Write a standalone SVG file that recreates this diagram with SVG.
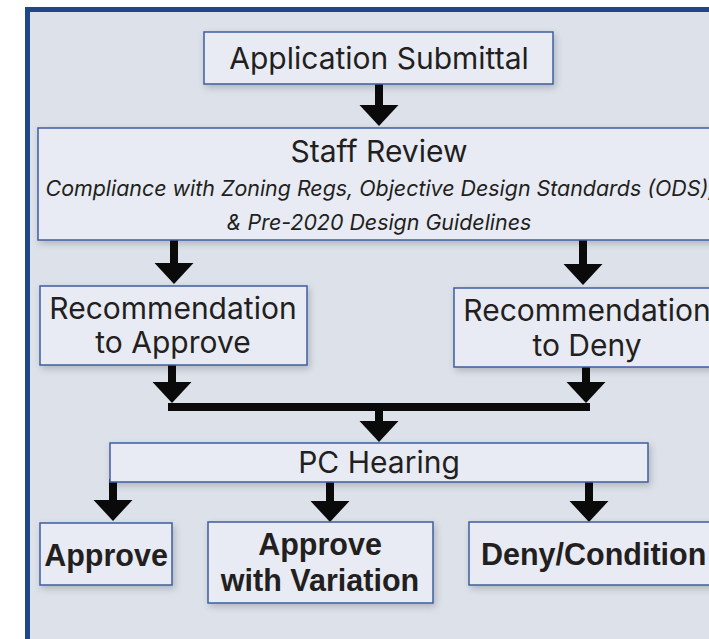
<svg xmlns="http://www.w3.org/2000/svg" width="709" height="639" viewBox="0 0 709 639">
<style>
.box{fill:#E8EBF3;stroke:#3D5E9E;stroke-width:1.5;filter:url(#sh)}
.t{font-family:Inter,"Open Sans","Liberation Sans",sans-serif;font-size:30px;fill:#231F20;text-anchor:middle}
.i{font-family:Inter,"Open Sans","Liberation Sans",sans-serif;font-size:21.4px;font-style:italic;fill:#231F20;text-anchor:middle}
.b{font-family:"Liberation Sans",Arial,sans-serif;font-size:30.5px;font-weight:bold;fill:#231F20;text-anchor:middle}
.c{stroke:#0A0A0A;stroke-width:8;fill:none;marker-end:url(#ah)}
</style>
<defs>
<filter id="sh" x="-10%" y="-20%" width="120%" height="150%">
<feDropShadow dx="2" dy="3" stdDeviation="3.5" flood-color="#000" flood-opacity="0.2"/>
</filter>
<marker id="ah" markerUnits="userSpaceOnUse" markerWidth="22" markerHeight="40" refX="0" refY="19.5" orient="auto" viewBox="0 0 22 40">
<path d="M0,0 L21,19.5 L0,39 z" fill="#0A0A0A"/>
</marker>
</defs>
<rect x="27.5" y="9.5" width="900" height="900" fill="#DCE1EA" stroke="#1F4788" stroke-width="5"/>
<g id="connectors">
<line class="c" x1="379" y1="84" x2="379" y2="105"/>
<line class="c" x1="174" y1="240" x2="174" y2="263"/>
<line class="c" x1="583" y1="240" x2="583" y2="264"/>
<line class="c" x1="172" y1="365" x2="172" y2="382"/>
<line class="c" x1="586" y1="367" x2="586" y2="382"/>
<line x1="168" y1="407" x2="590" y2="407" stroke="#0A0A0A" stroke-width="8"/>
<line class="c" x1="379" y1="407" x2="379" y2="421"/>
<line class="c" x1="113" y1="479" x2="113" y2="500"/>
<line class="c" x1="330" y1="479" x2="330" y2="501"/>
<line class="c" x1="589" y1="479" x2="589" y2="501"/>
</g>
<g id="app">
<rect class="box" x="204" y="32" width="349" height="52"/>
<text class="t" x="379" y="69">Application Submittal</text>
</g>
<g id="staff">
<rect class="box" x="38" y="128" width="682" height="112"/>
<text class="t" x="379" y="162">Staff Review</text>
<text class="i" x="380" y="196">Compliance with Zoning Regs, Objective Design Standards (ODS),</text>
<text class="i" x="379" y="230">&amp; Pre-2020 Design Guidelines</text>
</g>
<g id="recA">
<rect class="box" x="40" y="286" width="267" height="79"/>
<text class="t" x="173" y="319">Recommendation</text>
<text class="t" x="173" y="353">to Approve</text>
</g>
<g id="recD">
<rect class="box" x="454" y="288" width="266" height="79"/>
<text class="t" x="587" y="321">Recommendation</text>
<text class="t" x="587" y="356">to Deny</text>
</g>
<g id="pc">
<rect class="box" x="110" y="443" width="538" height="39"/>
<text class="t" x="379" y="473">PC Hearing</text>
</g>
<g id="approve">
<rect class="box" x="40" y="523" width="132" height="62"/>
<text class="b" x="106" y="566">Approve</text>
</g>
<g id="variation">
<rect class="box" x="208" y="522" width="225" height="81"/>
<text class="b" x="320" y="555">Approve</text>
<text class="b" x="320" y="591">with Variation</text>
</g>
<g id="deny">
<rect class="box" x="469" y="522" width="260" height="63"/>
<text class="b" x="481" y="565" style="text-anchor:start">Deny/Condition</text>
</g>
</svg>
